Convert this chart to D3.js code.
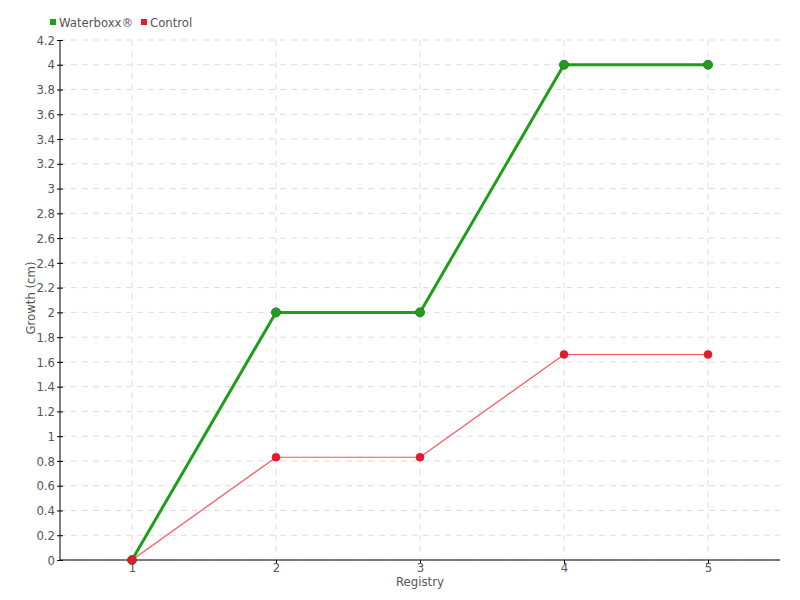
<!DOCTYPE html>
<html>
<head>
<meta charset="utf-8">
<script src="https://cdn.jsdelivr.net/npm/d3@7"></script>
<style>
  body { margin: 0; background: #fff; }
  text { font-family: "DejaVu Sans Condensed", "Liberation Sans Narrow", sans-serif; fill: #555; }
  .grid line { stroke: #ddd; stroke-dasharray: 6,5; }
  .axis path, .axis line { stroke: #000; }
</style>
</head>
<body>
<svg id="chart" width="800" height="600"></svg>
<script>
// data
var registry = [1, 2, 3, 4, 5];
var waterboxx = [0, 2, 2, 4, 4];
var control = [0, 0.83, 0.83, 1.66, 1.66];
var yTicks = d3.range(0, 4.21, 0.2).map(function(d) { return +d.toFixed(1); });

var svg = d3.select("#chart"),
    margin = {top: 40, right: 20, bottom: 40, left: 60},
    width = +svg.attr("width") - margin.left - margin.right,
    height = +svg.attr("height") - margin.top - margin.bottom;

var x = d3.scalePoint().domain(registry).range([0, width]).padding(0.5),
    y = d3.scaleLinear().domain([0, 4.2]).range([height, 0]);

var g = svg.append("g")
  .attr("transform", "translate(" + margin.left + "," + margin.top + ")");

// grid
g.append("g").attr("class", "grid")
  .selectAll("line").data(yTicks).enter().append("line")
  .attr("x1", 0).attr("x2", width)
  .attr("y1", function(d) { return y(d); }).attr("y2", function(d) { return y(d); });
g.append("g").attr("class", "grid")
  .selectAll("line").data(registry).enter().append("line")
  .attr("x1", function(d) { return x(d); }).attr("x2", function(d) { return x(d); })
  .attr("y1", 0).attr("y2", height);

// axes
var yAxis = g.append("g").attr("class", "axis")
  .call(d3.axisLeft(y).tickValues(yTicks).tickSize(3).tickSizeOuter(0).tickFormat(function(d) { return d3.format("")(d); }));
yAxis.select(".domain").attr("d", "M0,0V" + height);
yAxis.selectAll(".tick line").attr("x1", 3);
yAxis.selectAll("text").style("font-size", "13px").attr("x", -5);

var xAxis = g.append("g").attr("class", "axis")
  .attr("transform", "translate(0," + height + ")")
  .call(d3.axisBottom(x).tickSize(4).tickSizeOuter(0));
xAxis.select(".domain").attr("d", "M0,0H" + width);
xAxis.selectAll("text").style("font-size", "13px").attr("y", 3);

g.append("text")
  .attr("x", width / 2).attr("y", height + 26)
  .attr("text-anchor", "middle")
  .style("font-size", "13px")
  .text("Registry");

g.append("text")
  .attr("transform", "rotate(-90)")
  .attr("x", -258).attr("y", -25)
  .attr("text-anchor", "middle")
  .style("font-size", "13px")
  .text("Growth (cm)");

// lines
var line = d3.line()
  .x(function(d, i) { return x(registry[i]); })
  .y(function(d) { return y(d); });

g.append("path").datum(control)
  .attr("d", line)
  .attr("fill", "none")
  .attr("stroke", "#ff4d5e")
  .attr("stroke-width", 1.2);

g.append("path").datum(waterboxx)
  .attr("d", line)
  .attr("fill", "none")
  .attr("stroke", "#1f9e1a")
  .attr("stroke-width", 3);

g.selectAll(".wdot").data(waterboxx).enter().append("circle")
  .attr("class", "wdot")
  .attr("cx", function(d, i) { return x(registry[i]); })
  .attr("cy", function(d) { return y(d); })
  .attr("r", 4.5)
  .attr("fill", "#1f9e1a")
  .attr("stroke", "#2e7d2a")
  .attr("stroke-width", 1);

g.selectAll(".cdot").data(control).enter().append("circle")
  .attr("class", "cdot")
  .attr("cx", function(d, i) { return x(registry[i]); })
  .attr("cy", function(d) { return y(d); })
  .attr("r", 4)
  .attr("fill", "#e8192c")
  .attr("stroke", "#c81426")
  .attr("stroke-width", 0.5);

// legend
var legendItems = [{name: "Waterboxx®", color: "#1f9e1a", x: 50}, {name: "Control", color: "#e8192c", x: 141}];
var legend = svg.selectAll(".legend").data(legendItems).enter().append("g")
  .attr("class", "legend")
  .attr("transform", function(d) { return "translate(" + d.x + ",0)"; });
legend.append("rect")
  .attr("x", 0).attr("y", 19).attr("width", 6).attr("height", 6)
  .style("fill", function(d) { return d.color; });
legend.append("text")
  .attr("x", 9).attr("y", 27)
  .style("font-size", "13px")
  .text(function(d) { return d.name; });
</script>
</body>
</html>
